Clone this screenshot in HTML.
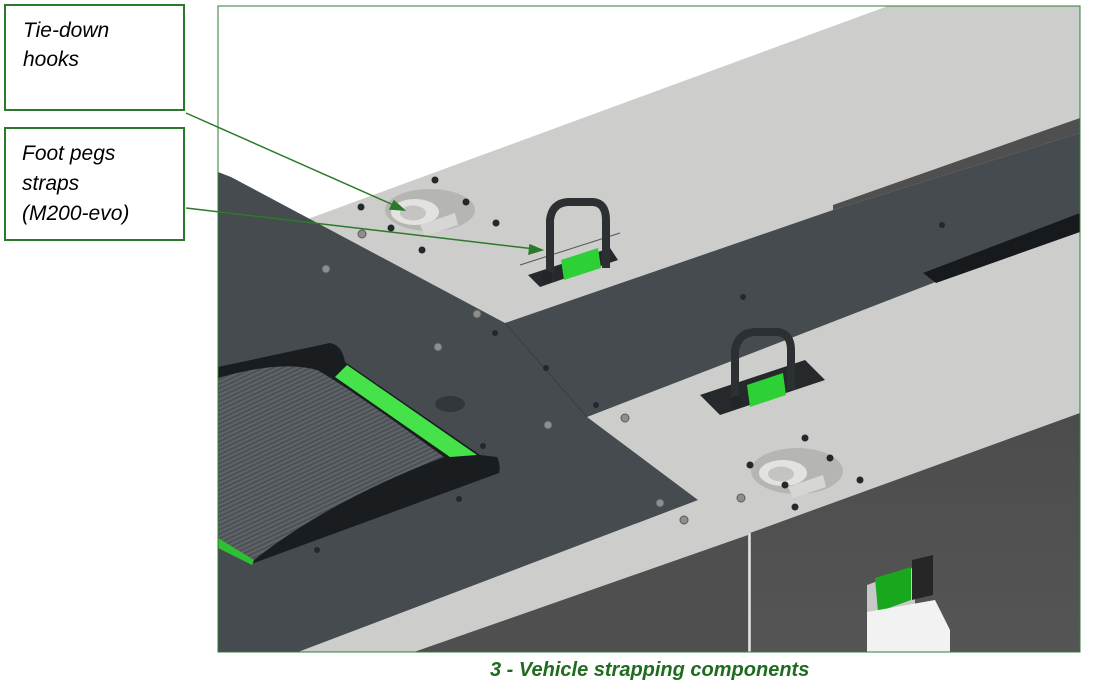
<!DOCTYPE html>
<html><head><meta charset="utf-8"><style>
body{margin:0;background:#fff;width:1093px;height:689px;overflow:hidden;font-family:"Liberation Sans",sans-serif}
</style></head><body>
<svg width="1093" height="689" viewBox="0 0 1093 689" xmlns="http://www.w3.org/2000/svg">
<defs>
<pattern id="rib" width="4" height="4" patternUnits="userSpaceOnUse" patternTransform="rotate(-25)">
<rect width="4" height="4" fill="#5d6267"/><rect width="4" height="1.4" fill="#484c51"/></pattern>
<linearGradient id="wall" x1="0" y1="0" x2="0" y2="1"><stop offset="0" stop-color="#4c4c4c"/><stop offset="1" stop-color="#555"/></linearGradient>
<clipPath id="fr"><rect x="218" y="6" width="862" height="646"/></clipPath>
</defs>
<g clip-path="url(#fr)">
<rect x="218" y="6" width="862" height="646" fill="#fff"/>
<!-- light top surface -->
<polygon points="305,220 888,6 1080,6 1080,652 218,652 218,260" fill="#cdcecb"/>
<!-- side wall right -->
<polygon points="750,533 1080,413 1080,652 750,652" fill="url(#wall)"/>
<!-- side wall left under strip -->
<polygon points="414,652 748,535 748,652" fill="#4f4f4f"/>
<line x1="750" y1="533" x2="750" y2="652" stroke="#e6e6e6" stroke-width="1.5"/>
<!-- left dark plate + band -->
<polygon points="218,172 231,177 505,323 833,210 1080,133 1080,213 933,283 587,417 698,500 298,652 218,652" fill="#464b50"/>
<polygon points="833,205 1080,118 1080,133 833,210" fill="#4f4f4f"/>
<polygon points="923,273 1080,213 1080,232 936,283" fill="#171a1c"/>
<line x1="505" y1="323" x2="587" y2="417" stroke="#3a3e42" stroke-width="1"/>
<!-- treadmill -->
<path d="M218,367 L330,343 Q342,345 345,362 L480,455 L497,457 Q501,465 499,473 L254,563 L218,545 Z" fill="#1a1d1f"/>
<path d="M218,378 Q280,360 317,370 Q345,385 444,457 Q330,500 254,560 L218,545 Z" fill="url(#rib)"/>
<polygon points="335,377 347,365 477,455 450,457" fill="#46e24a"/>
<polygon points="218,538 254,560 252,565 218,548" fill="#2fbf34"/>
<ellipse cx="450" cy="404" rx="15" ry="8" fill="#33373a"/>
<!-- tie-down hooks -->
<g>
<ellipse cx="430" cy="210" rx="45" ry="21" fill="#b5b6b2"/>
<ellipse cx="415" cy="212" rx="24" ry="13" fill="#e2e2e0"/>
<ellipse cx="413" cy="213" rx="13" ry="7.5" fill="#c4c4c2"/>
<polygon points="420,225 455,213 458,225 425,236" fill="#d6d6d4"/>
</g>
<g>
<ellipse cx="797" cy="471" rx="46" ry="23" fill="#b5b6b2"/>
<ellipse cx="783" cy="473" rx="24" ry="13" fill="#e2e2e0"/>
<ellipse cx="781" cy="474" rx="13" ry="7.5" fill="#c4c4c2"/>
<polygon points="788,487 823,475 826,487 793,498" fill="#d6d6d4"/>
</g>
<!-- foot peg straps -->
<g>
<polygon points="528,275 610,248 618,260 540,287" fill="#26292b"/>
<line x1="520" y1="265" x2="620" y2="233" stroke="#555" stroke-width="1"/>
<path d="M550,282 L550,220 Q552,203 568,202 L593,202 Q606,203 606,220 L606,268" fill="none" stroke="#2d3033" stroke-width="8"/>
<polygon points="561,260 598,248 601,268 564,280" fill="#2ed135"/>
<circle cx="547" cy="277" r="6" fill="#222527"/>
</g>
<g>
<polygon points="700,395 805,360 825,380 720,415" fill="#26292b"/>
<path d="M735,405 L735,350 Q738,333 755,332 L778,332 Q791,334 791,350 L791,390" fill="none" stroke="#2d3033" stroke-width="8"/>
<polygon points="747,385 783,373 786,395 750,407" fill="#2ed135"/>
<circle cx="736" cy="402" r="6" fill="#222527"/>
</g>
<!-- side strap -->
<polygon points="867,585 915,567 915,610 867,625" fill="#c8c8c6"/>
<polygon points="875,578 911,567 911,600 878,612" fill="#18a81e"/>
<polygon points="912,560 933,555 933,595 912,600" fill="#262626"/>
<polygon points="867,612 935,600 950,630 950,652 867,652" fill="#f2f2f2"/>
<!-- screws -->
<g fill="#25282b">
<circle cx="435" cy="180" r="3.5"/><circle cx="466" cy="202" r="3.5"/><circle cx="496" cy="223" r="3.5"/><circle cx="361" cy="207" r="3.5"/><circle cx="391" cy="228" r="3.5"/><circle cx="422" cy="250" r="3.5"/>
<circle cx="805" cy="438" r="3.5"/><circle cx="830" cy="458" r="3.5"/><circle cx="750" cy="465" r="3.5"/><circle cx="785" cy="485" r="3.5"/><circle cx="860" cy="480" r="3.5"/><circle cx="795" cy="507" r="3.5"/>
<circle cx="942" cy="225" r="3"/><circle cx="743" cy="297" r="3"/><circle cx="495" cy="333" r="3"/><circle cx="546" cy="368" r="3"/><circle cx="596" cy="405" r="3"/><circle cx="483" cy="446" r="3"/><circle cx="459" cy="499" r="3"/><circle cx="317" cy="550" r="3"/>
</g>
<g fill="#8d8f8e" stroke="#5a5a5a" stroke-width="1">
<circle cx="362" cy="234" r="4"/><circle cx="326" cy="269" r="4"/><circle cx="477" cy="314" r="4"/><circle cx="438" cy="347" r="4"/><circle cx="548" cy="425" r="4"/><circle cx="625" cy="418" r="4"/><circle cx="660" cy="503" r="4"/><circle cx="684" cy="520" r="4"/><circle cx="741" cy="498" r="4"/>
</g>
</g>
<rect x="218" y="6" width="862" height="646" fill="none" stroke="#2e7d32" stroke-width="1"/>
<!-- labels -->
<rect x="5" y="5" width="179" height="105" fill="#fff" stroke="#2a7a2a" stroke-width="2"/>
<rect x="5" y="128" width="179" height="112" fill="#fff" stroke="#2a7a2a" stroke-width="2"/>
<g font-family="Liberation Sans, sans-serif" font-style="italic" font-size="21" fill="#000">
<text x="23" y="37">Tie-down</text><text x="23" y="66">hooks</text>
<text x="22" y="160">Foot pegs</text><text x="22" y="190">straps</text><text x="22" y="220">(M200-evo)</text>
</g>
<g stroke="#2a7a2a" stroke-width="1.5" fill="#2a7a2a">
<line x1="186" y1="113" x2="398" y2="207"/>
<polygon points="404,210 390,209 394,201"/>
<line x1="186" y1="208" x2="535" y2="249"/>
<polygon points="542,250 529,254 530,245"/>
</g>
<text x="490" y="676" font-family="Liberation Sans, sans-serif" font-style="italic" font-weight="bold" font-size="20" fill="#1f6b1f">3 - Vehicle strapping components</text>
</svg>
</body></html>
